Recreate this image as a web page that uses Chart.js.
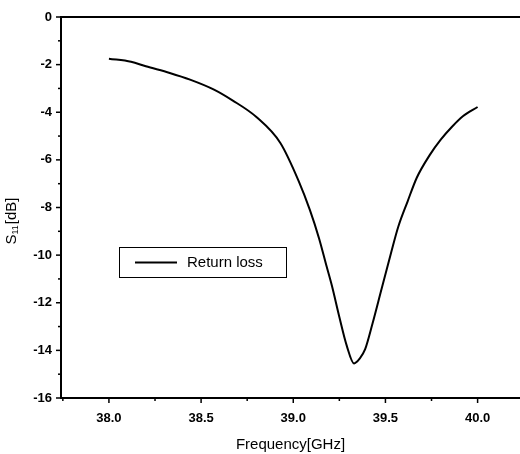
<!DOCTYPE html>
<html>
<head>
<meta charset="utf-8">
<script src="https://cdn.jsdelivr.net/npm/chart.js@4/dist/chart.umd.min.js"></script>
<style>
  html, body { margin: 0; padding: 0; background: #fff; }
  #wrap { width: 520px; height: 454px; position: relative; }
</style>
</head>
<body>
<div id="wrap"><canvas id="s11Chart"></canvas></div>
<script>
// --- data ---
const freqGHz = [38.00, 38.12, 38.20, 38.33, 38.44, 38.57, 38.67, 38.80, 38.93, 39.03,
                 39.09, 39.14, 39.18, 39.21, 39.25, 39.29, 39.33, 39.36, 39.39, 39.43,
                 39.48, 39.53, 39.57, 39.62, 39.67, 39.74, 39.80, 39.86, 39.92, 40.00];
const s11dB = [-1.75, -1.88, -2.07, -2.35, -2.63, -3.05, -3.50, -4.20, -5.29, -6.90,
               -8.10, -9.30, -10.45, -11.30, -12.60, -13.80, -14.55, -14.35, -13.95, -12.87,
               -11.39, -9.92, -8.80, -7.75, -6.75, -5.80, -5.15, -4.62, -4.17, -3.78];
const xTickValues = [38.0, 38.5, 39.0, 39.5, 40.0];
const yTickValues = [0, -2, -4, -6, -8, -10, -12, -14, -16];
const seriesLabel = 'Return loss';

const tickFont = { family: 'Liberation Sans, Arial, sans-serif', size: 13, weight: 'bold' };

// draws tick marks (major + minor), the top frame line, the y title and the boxed legend
const framePlugin = {
    id: 'frame',
    afterDraw(chart) {
        const { ctx, chartArea: area, scales } = chart;
        const x = scales.x, y = scales.y;
        ctx.save();
        ctx.strokeStyle = '#000';
        ctx.lineWidth = 1.5;

        // x ticks, pointing down
        const xStep = xTickValues[1] - xTickValues[0];
        for (let v = xTickValues[0] - xStep / 2; v <= x.max; v += xStep / 2) {
            if (v < x.min) continue;
            const px = x.getPixelForValue(v);
            const major = xTickValues.some(t => Math.abs(t - v) < 1e-6);
            ctx.beginPath();
            ctx.moveTo(px, area.bottom);
            ctx.lineTo(px, area.bottom + (major ? 5 : 3));
            ctx.stroke();
        }
        // y ticks, pointing left
        const yStep = yTickValues[0] - yTickValues[1];
        for (let v = y.max; v >= y.min; v -= yStep / 2) {
            const py = y.getPixelForValue(v);
            const major = yTickValues.some(t => Math.abs(t - v) < 1e-6);
            ctx.beginPath();
            ctx.moveTo(area.left, py);
            ctx.lineTo(area.left - (major ? 5 : 3), py);
            ctx.stroke();
        }

        // top frame line
        ctx.lineWidth = 2;
        ctx.beginPath();
        ctx.moveTo(area.left, area.top);
        ctx.lineTo(chart.width, area.top);
        ctx.stroke();

        // y axis title S11[dB] with subscript
        ctx.fillStyle = '#000';
        ctx.translate(12, 221);
        ctx.rotate(-Math.PI / 2);
        const big = '15px Liberation Sans, Arial, sans-serif';
        const small = '9px Liberation Sans, Arial, sans-serif';
        ctx.font = big;
        const wS = ctx.measureText('S').width;
        const wB = ctx.measureText('[dB]').width;
        ctx.font = small;
        const w11 = ctx.measureText('11').width + 1;
        let cx = -(wS + w11 + wB) / 2;
        ctx.textBaseline = 'middle';
        ctx.font = big;
        ctx.fillText('S', cx, 0);
        ctx.font = small;
        ctx.fillText('11', cx + wS, 4);
        ctx.font = big;
        ctx.fillText('[dB]', cx + wS + w11, 0);
        ctx.restore();

        // boxed legend
        const ds = chart.data.datasets[0];
        ctx.save();
        ctx.strokeStyle = '#000';
        ctx.lineWidth = 1;
        ctx.strokeRect(119.5, 247.5, 167, 30);
        ctx.lineWidth = 2;
        ctx.beginPath();
        ctx.moveTo(135, 262.5);
        ctx.lineTo(177, 262.5);
        ctx.stroke();
        ctx.fillStyle = '#000';
        ctx.font = '15px Liberation Sans, Arial, sans-serif';
        ctx.textBaseline = 'middle';
        ctx.fillText(ds.label, 187, 263);
        ctx.restore();
    }
};

const ctx = document.getElementById('s11Chart').getContext('2d');
new Chart(ctx, {
    type: 'line',
    data: {
        datasets: [{
            label: seriesLabel,
            data: freqGHz.map((f, i) => ({ x: f, y: s11dB[i] })),
            borderColor: '#000',
            borderWidth: 2,
            pointRadius: 0,
            fill: false,
            cubicInterpolationMode: 'monotone'
        }]
    },
    options: {
        responsive: true,
        maintainAspectRatio: false,
        animation: false,
        layout: { padding: { top: 17, right: 0, left: 0, bottom: 0 } },
        plugins: { legend: { display: false }, tooltip: { enabled: false } },
        scales: {
            x: {
                type: 'linear',
                min: 37.74,
                max: 40.23,
                afterBuildTicks: axis => { axis.ticks = xTickValues.map(v => ({ value: v })); },
                afterFit: axis => { axis.height = 56; },
                grid: { display: false, drawTicks: false },
                border: { display: true, color: '#000', width: 2 },
                ticks: {
                    color: '#000',
                    font: tickFont,
                    padding: 13,
                    maxRotation: 0,
                    callback: v => v.toFixed(1)
                },
                title: {
                    display: true,
                    text: 'Frequency[GHz]',
                    color: '#000',
                    font: { family: 'Liberation Sans, Arial, sans-serif', size: 15 },
                    padding: 0
                }
            },
            y: {
                min: -16,
                max: 0,
                afterBuildTicks: axis => { axis.ticks = yTickValues.map(v => ({ value: v })); },
                afterFit: axis => { axis.width = 61; },
                grid: { display: false, drawTicks: false },
                border: { display: true, color: '#000', width: 2 },
                ticks: {
                    color: '#000',
                    font: tickFont,
                    padding: 9,
                    callback: v => String(v)
                }
            }
        }
    },
    plugins: [framePlugin]
});
</script>
</body>
</html>
